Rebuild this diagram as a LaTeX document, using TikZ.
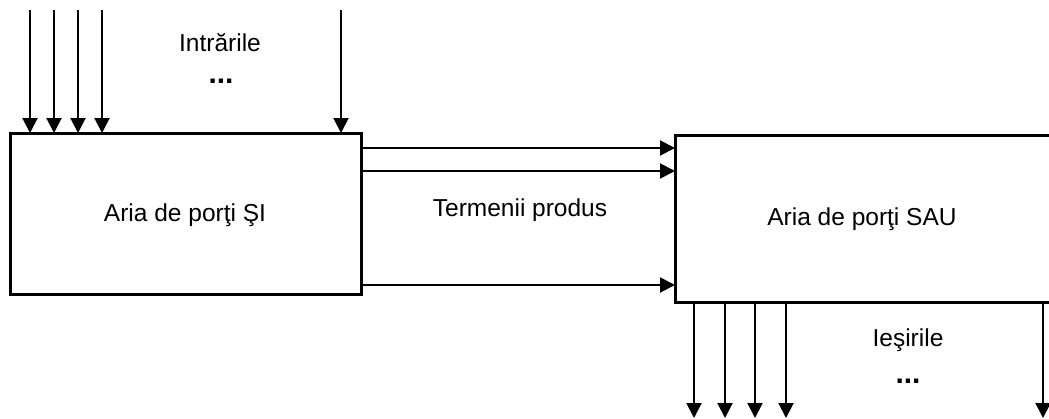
\documentclass[tikz,border=0pt]{standalone}
\usepackage{fontspec}
\setmainfont{Liberation Sans}
\usetikzlibrary{arrows.meta}
\begin{document}
\begin{tikzpicture}[x=1pt,y=-1pt,
  blk/.style={draw=black,line width=3pt,fill=none,inner sep=0pt,outer sep=0pt},
  arr/.style={line width=2pt,-{Triangle[length=15pt,width=15pt]}},
  lbl/.style={font=\fontsize{24.5}{28}\selectfont,inner sep=0pt},
  dots/.style={font=\fontsize{30}{32}\selectfont\bfseries,inner sep=0pt}]
\useasboundingbox (0,0) rectangle (1049,418);
% blocks
\node[blk,minimum width=351pt,minimum height=161pt] (L) at (185.5,213.5) {};
\node[blk,minimum width=390pt,minimum height=167pt] (R) at (870,218.5) {};
% labels
\node[lbl] (tL) at (185,215) {Aria de porţi ŞI};
\node[lbl] (tR) at (862,219) {Aria de porţi SAU};
\node[lbl] (tT) at (520,210) {Termenii produs};
\node[lbl] (tI) at (220,43) {Intrările};
\node[dots] (dI) at (221,81) {...};
\node[lbl] (tO) at (908,340) {Ieşirile};
\node[dots] (dO) at (908,381) {...};
% inputs
\foreach \i/\x in {1/30,2/54,3/78,4/102,5/341}{
  \coordinate (in\i) at (\x,10);
  \draw[arr] (in\i) -- (in\i |- L.north);
}
% product terms
\foreach \i/\y in {1/148,2/171,3/285}{
  \coordinate (p\i) at (0,\y);
  \draw[arr] (p\i -| L.east) -- (p\i -| R.west);
}
% outputs
\foreach \i/\x in {1/694,2/725,3/755,4/786,5/1043}{
  \coordinate (out\i) at (\x,418);
  \draw[arr] (out\i |- R.south) -- (out\i);
}
\end{tikzpicture}
\end{document}
